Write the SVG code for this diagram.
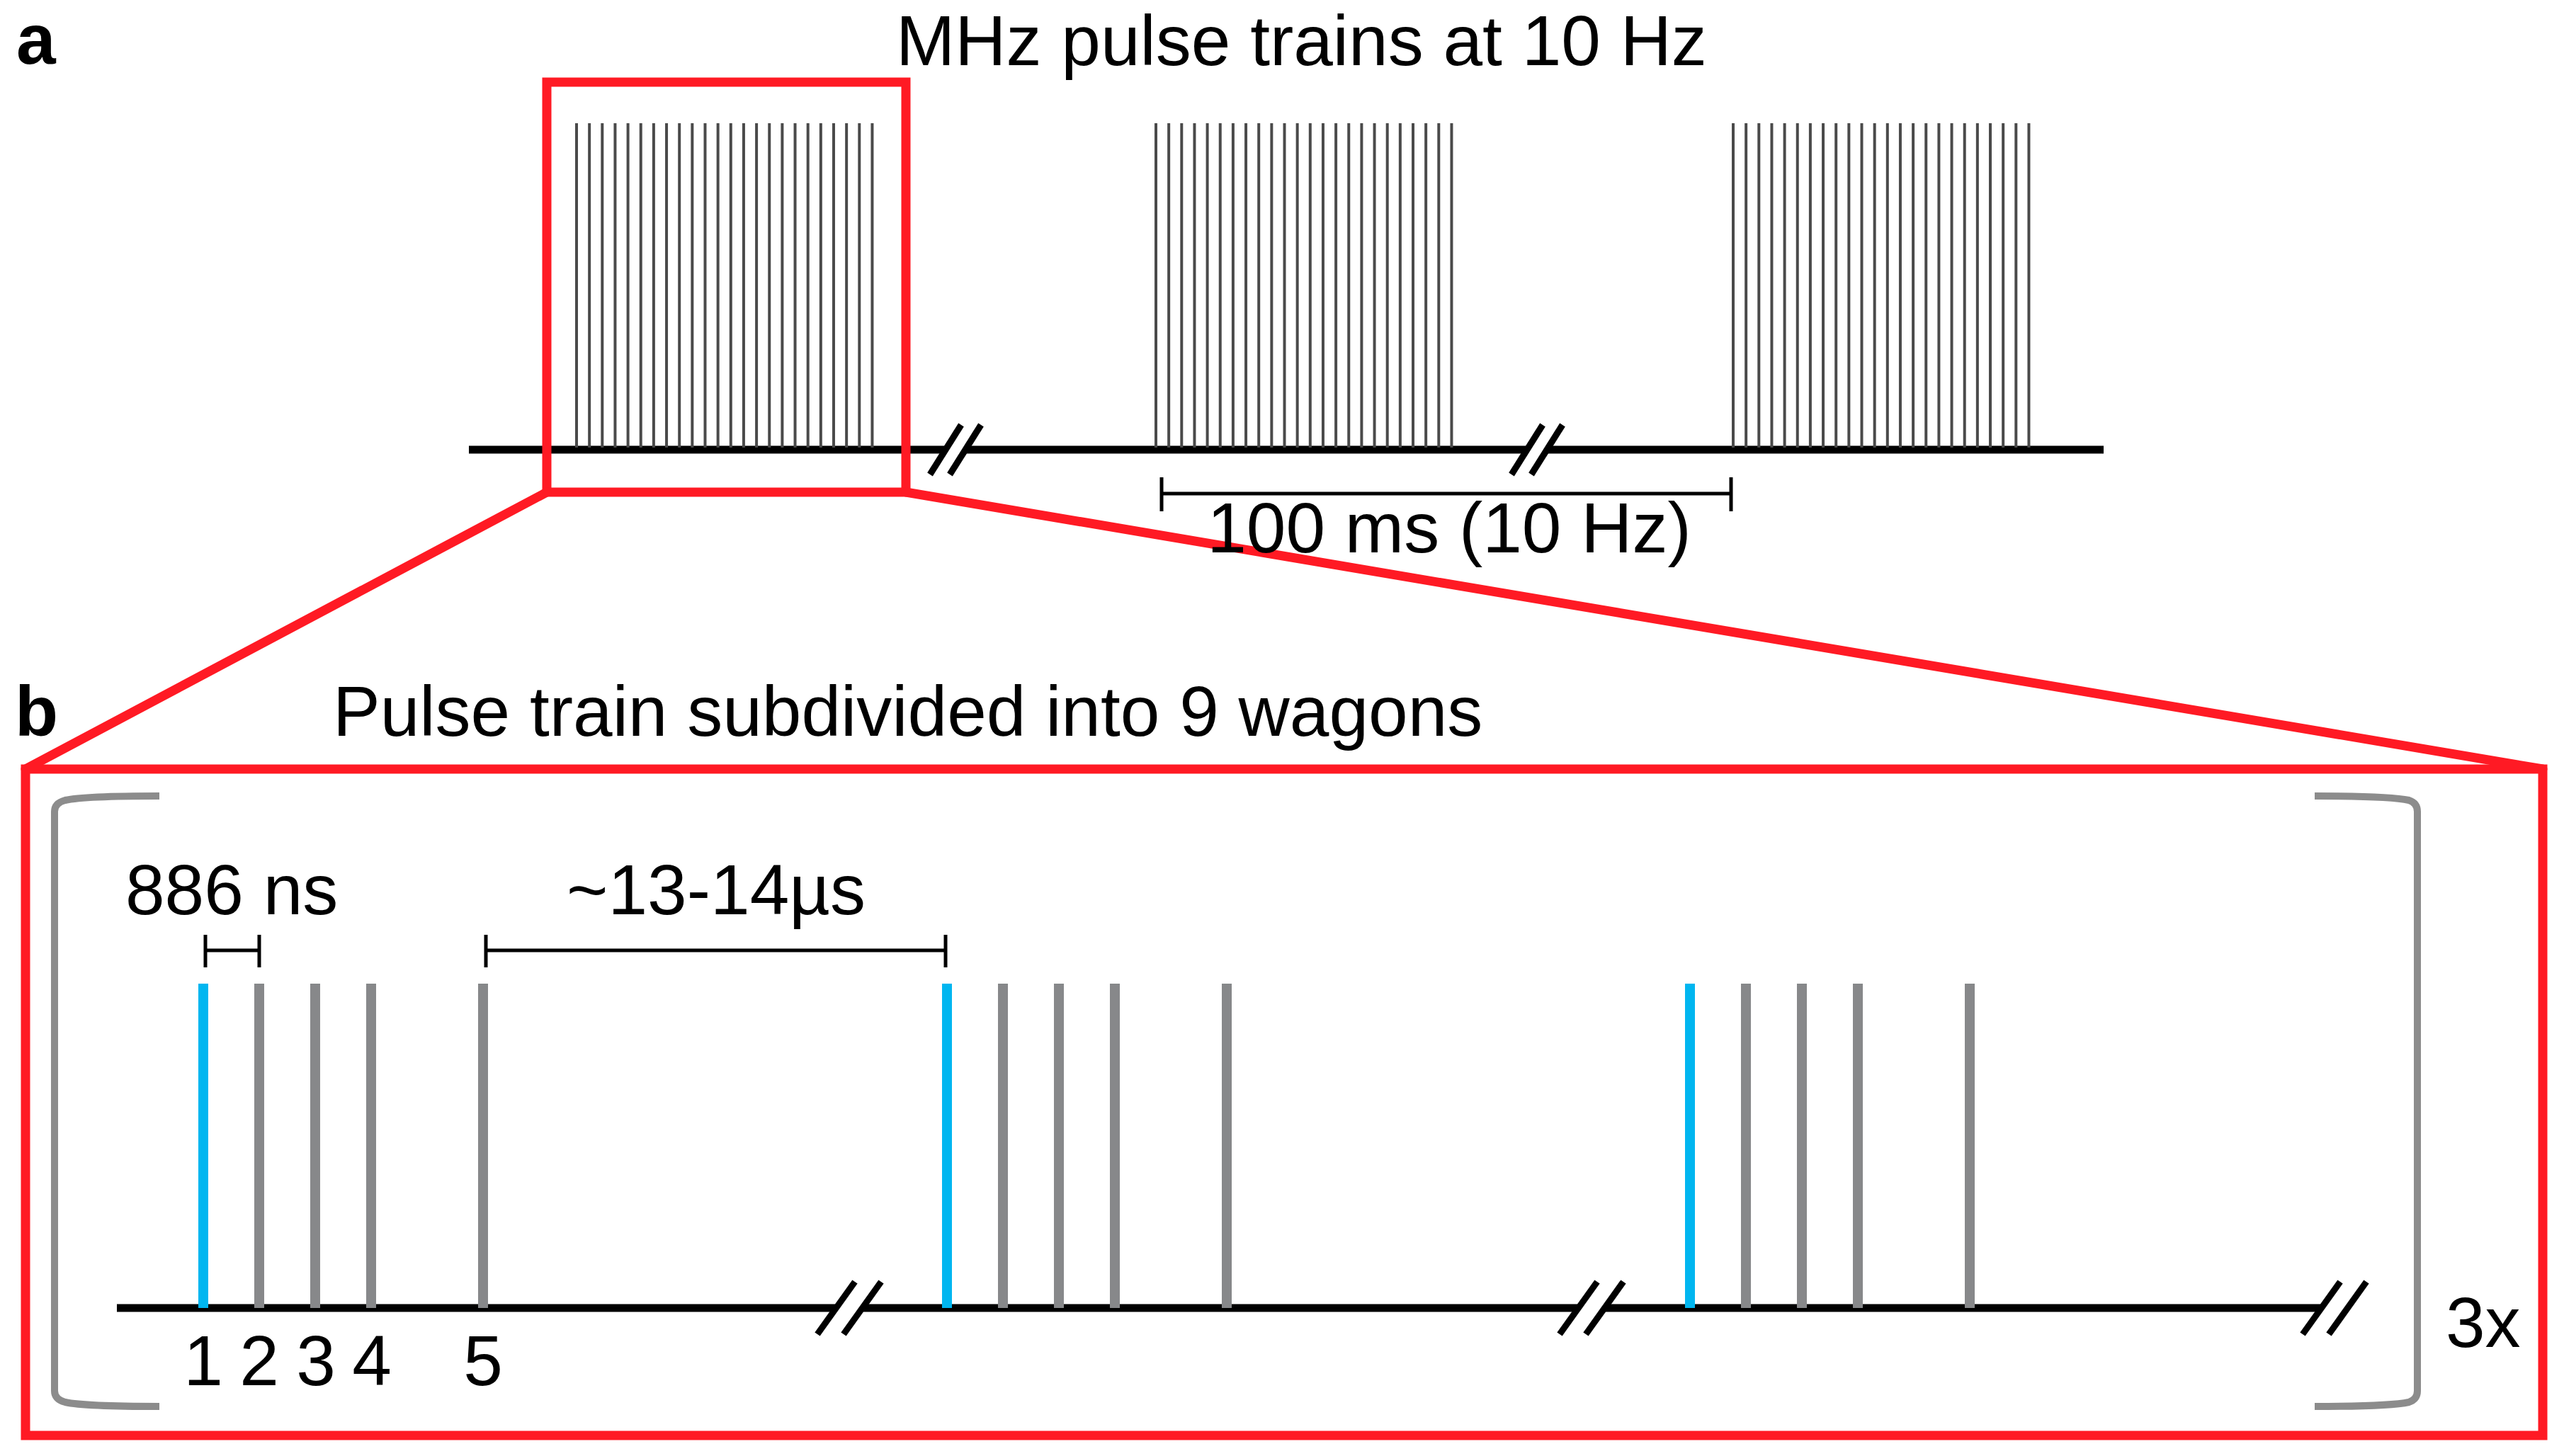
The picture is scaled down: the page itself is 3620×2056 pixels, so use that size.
<svg xmlns="http://www.w3.org/2000/svg" xmlns:xlink="http://www.w3.org/1999/xlink" width="3620" height="2056" viewBox="0 0 3620 2056">
<style>
  text { font-family: "Liberation Sans", Arial, sans-serif; fill: #000; }
  .lbl { font-size: 100px; }
  .panel { font-size: 100px; font-weight: bold; }
  .red { fill: none; stroke: #ff1a24; stroke-width: 13; }
  .base { stroke: #000; stroke-width: 11; }
  .pulse { stroke: #4a4a4a; stroke-width: 4; }
  .wag { stroke: #87888a; stroke-width: 14; }
  .blue { stroke: #00b6f0; stroke-width: 14; }
  .bar { stroke: #000; stroke-width: 5; fill: none; }
  .slash { stroke: #000; stroke-width: 9; }
  .brk { fill: #fff; }
  .bracket { fill: none; stroke: #8c8c8c; stroke-width: 10; stroke-linejoin: round; }
</style>
<defs>
  <g id="train">
    <line class="pulse" x1="0" y1="174" x2="0" y2="632"/>
    <line class="pulse" x1="18.15" y1="174" x2="18.15" y2="632"/>
    <line class="pulse" x1="36.3" y1="174" x2="36.3" y2="632"/>
    <line class="pulse" x1="54.45" y1="174" x2="54.45" y2="632"/>
    <line class="pulse" x1="72.6" y1="174" x2="72.6" y2="632"/>
    <line class="pulse" x1="90.75" y1="174" x2="90.75" y2="632"/>
    <line class="pulse" x1="108.9" y1="174" x2="108.9" y2="632"/>
    <line class="pulse" x1="127.05" y1="174" x2="127.05" y2="632"/>
    <line class="pulse" x1="145.2" y1="174" x2="145.2" y2="632"/>
    <line class="pulse" x1="163.35" y1="174" x2="163.35" y2="632"/>
    <line class="pulse" x1="181.5" y1="174" x2="181.5" y2="632"/>
    <line class="pulse" x1="199.65" y1="174" x2="199.65" y2="632"/>
    <line class="pulse" x1="217.8" y1="174" x2="217.8" y2="632"/>
    <line class="pulse" x1="235.95" y1="174" x2="235.95" y2="632"/>
    <line class="pulse" x1="254.1" y1="174" x2="254.1" y2="632"/>
    <line class="pulse" x1="272.25" y1="174" x2="272.25" y2="632"/>
    <line class="pulse" x1="290.4" y1="174" x2="290.4" y2="632"/>
    <line class="pulse" x1="308.55" y1="174" x2="308.55" y2="632"/>
    <line class="pulse" x1="326.7" y1="174" x2="326.7" y2="632"/>
    <line class="pulse" x1="344.85" y1="174" x2="344.85" y2="632"/>
    <line class="pulse" x1="363" y1="174" x2="363" y2="632"/>
    <line class="pulse" x1="381.15" y1="174" x2="381.15" y2="632"/>
    <line class="pulse" x1="399.3" y1="174" x2="399.3" y2="632"/>
    <line class="pulse" x1="417.45" y1="174" x2="417.45" y2="632"/>
  </g>
  <g id="wagons">
    <line class="blue" x1="0" y1="1389" x2="0" y2="1847"/>
    <line class="wag" x1="79" y1="1389" x2="79" y2="1847"/>
    <line class="wag" x1="158" y1="1389" x2="158" y2="1847"/>
    <line class="wag" x1="237" y1="1389" x2="237" y2="1847"/>
    <line class="wag" x1="395" y1="1389" x2="395" y2="1847"/>
  </g>
  <g id="brkA">
    <polygon class="brk" points="-19,8 -9,-8 19,-8 9,8"/>
    <line class="slash" x1="-36" y1="35" x2="8" y2="-35"/>
    <line class="slash" x1="-8" y1="35" x2="36" y2="-35"/>
  </g>
  <g id="brkB">
    <polygon class="brk" points="-24,8 -13,-8 24,-8 13,8"/>
    <line class="slash" x1="-45" y1="37" x2="8" y2="-37"/>
    <line class="slash" x1="-8" y1="37" x2="45" y2="-37"/>
  </g>
</defs>

<g id="panel-a">
  <text class="panel" x="23" y="90">a</text>
  <text class="lbl" x="1265" y="92">MHz pulse trains at 10 Hz</text>
  <line class="base" x1="662" y1="635" x2="2970" y2="635"/>
  <g id="train-1"><use xlink:href="#train" x="814"/></g>
  <g id="train-2"><use xlink:href="#train" x="1632"/></g>
  <g id="train-3"><use xlink:href="#train" x="2447"/></g>
  <use xlink:href="#brkA" x="1349" y="635"/>
  <use xlink:href="#brkA" x="2170" y="635"/>
  <g id="period-bar">
    <path class="bar" d="M1640,674 V722 M1640,697 H2444 M2444,674 V722"/>
  </g>
</g>

<g id="connectors">
  <rect id="zoom-box" class="red" x="772" y="116" width="507" height="579"/>
  <path class="red" d="M772,695 L36,1086 M1279,695 L3590,1086" stroke-linecap="round"/>
  <rect id="box-b" class="red" x="36" y="1086" width="3554" height="941"/>
</g>

<text class="lbl" x="2046" y="780" text-anchor="middle">100 ms (10 Hz)</text>

<g id="panel-b">
  <text class="panel" x="21" y="1039">b</text>
  <text class="lbl" x="470" y="1039">Pulse train subdivided into 9 wagons</text>
  <path id="bracket-left" class="bracket" d="M225,1124 C165,1124 110,1126 92,1130 Q77,1134 77,1146 V1964 Q77,1976 92,1980 C110,1984 165,1986 225,1986"/>
  <path id="bracket-right" class="bracket" d="M3268,1124 C3328,1124 3383,1126 3401,1130 Q3413,1134 3413,1146 V1964 Q3413,1976 3401,1980 C3383,1984 3328,1986 3268,1986"/>
  <line class="base" x1="165" y1="1847" x2="3278" y2="1847"/>
  <g id="wagon-group-1"><use xlink:href="#wagons" x="287"/></g>
  <g id="wagon-group-2"><use xlink:href="#wagons" x="1337"/></g>
  <g id="wagon-group-3"><use xlink:href="#wagons" x="2386"/></g>
  <use xlink:href="#brkB" x="1199" y="1847"/>
  <use xlink:href="#brkB" x="2247" y="1847"/>
  <use xlink:href="#brkB" x="3296" y="1847"/>
  <g id="bar-886">
    <path class="bar" d="M290,1320 V1366 M290,1342 H366 M366,1320 V1366"/>
    <text class="lbl" x="177" y="1291">886 ns</text>
  </g>
  <g id="bar-13us">
    <path class="bar" d="M686,1320 V1366 M686,1342 H1335 M1335,1320 V1366"/>
    <text class="lbl" x="1011" y="1291" text-anchor="middle">~13-14µs</text>
  </g>
  <g id="wagon-numbers" text-anchor="middle">
    <text class="lbl" x="287" y="1956">1</text>
    <text class="lbl" x="366" y="1956">2</text>
    <text class="lbl" x="446" y="1956">3</text>
    <text class="lbl" x="525" y="1956">4</text>
    <text class="lbl" x="682" y="1956">5</text>
  </g>
  <text class="lbl" x="3453" y="1902">3x</text>
</g>
</svg>
